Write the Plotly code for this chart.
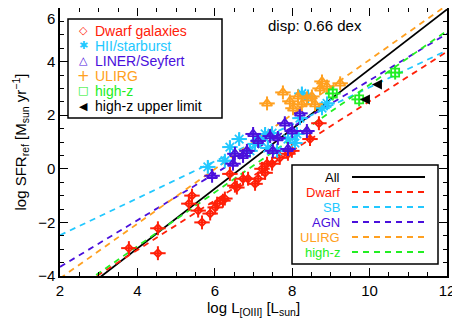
import numpy as np
import plotly.graph_objects as go

# ---- data ----
dwarf_x = [3.78, 4.53, 4.53, 5.33, 5.41, 5.57, 5.67, 5.88, 6.01, 6.06, 6.21, 6.26, 6.39, 6.52,
           6.57, 6.73, 6.86, 7.04, 7.12, 7.22, 7.30, 7.35, 7.48, 7.68, 7.89, 7.99, 8.46, 8.69]
dwarf_y = [-2.96, -2.22, -3.15, -1.30, -1.00, -1.56, -2.00, -1.67, -1.44, -1.30, -1.19, -1.11, -0.19, -0.63,
           -0.70, -0.37, -0.37, -0.56, -0.37, 0.00, -0.15, 0.19, 0.19, 0.41, 0.56, 0.67, 1.11, 1.70]

sb_x = [5.82, 6.26, 6.39, 6.63, 6.91, 7.04, 7.17, 7.30, 7.37, 7.48, 7.61, 7.89, 8.07, 8.12, 8.20, 8.25, 8.41, 8.77, 8.90]
sb_y = [0.07, 0.30, 0.81, 1.11, 0.67, 0.93, 1.07, 1.30, 0.78, 1.33, 0.67, 1.11, 0.96, 1.30, 1.89, 2.81, 2.70, 2.26, 2.44]

agn_x = [5.93, 6.47, 6.52, 6.73, 6.83, 6.99, 7.12, 7.43, 7.50, 7.63, 7.81, 7.89, 8.20, 8.38, 8.00]
agn_y = [-0.26, 0.19, 0.56, 0.48, 0.67, 1.30, 1.04, 1.22, 0.67, 1.15, 1.70, 0.74, 2.07, 1.41, 1.41]

ulirg_x = [7.35, 7.76, 7.94, 8.02, 8.15, 8.25, 8.38, 8.51, 8.59, 8.72, 8.77, 8.90, 9.24]
ulirg_y = [2.44, 2.85, 2.52, 2.26, 2.70, 2.41, 2.63, 2.70, 2.41, 3.00, 3.26, 3.07, 3.19]

highz_x = [9.05, 9.73, 10.66]
highz_y = [2.81, 2.59, 3.59]

limit_x = [10.06, 9.75]
limit_y = [3.15, 2.59]

# linear fits: log SFR = a + b * log L[OIII]
fit_names = ['All', 'Dwarf', 'SB', 'AGN', 'ULIRG', 'high-z']
fit_a = [-7.43, -6.73, -3.86, -5.40, -6.13, -6.91]
fit_b = [1.115, 0.925, 0.69, 0.87, 1.02, 1.005]

x_ticks = [2, 4, 6, 8, 10, 12]
y_ticks = [-4, -2, 0, 2, 4, 6]

legend_labels = ['Dwarf galaxies', 'HII/starburst', 'LINER/Seyfert', 'ULIRG', 'high-z', 'high-z upper limit']
legend_glyphs = ['◇', '✱', '△', '+', '□', '◀']

RED = '#ff2008'
CYAN = '#22c8ff'
PURPLE = '#4a10dc'
ORANGE = '#ffa020'
GREEN = '#22ee22'
fit_colors = ['black', RED, CYAN, PURPLE, ORANGE, GREEN]
legend_colors = [RED, CYAN, PURPLE, ORANGE, GREEN, 'black']

FONT = 'Liberation Sans'
W, H = 460, 331
OFF = 8  # page body margin shifts the figure in the window
ML, MR, MT, MB = 52, 21, 0, 63
PW, PH = W - ML - MR, H - MT - MB


# window pixel -> paper coordinate
def px(x):
    return (x - OFF - ML) / PW


def py(y):
    return 1 - (y - OFF - MT) / PH


fig = go.Figure()

# fit lines
xx = np.array([2.0, 12.0])
for name, a, b, c in zip(fit_names, fit_a, fit_b, fit_colors):
    fig.add_trace(go.Scatter(
        x=xx, y=a + b * xx, mode='lines', showlegend=False,
        line=dict(color=c, width=1.8, dash='solid' if name == 'All' else '6px,5px')))


def pts(x, y, color, symbol, size=8):
    fig.add_trace(go.Scatter(
        x=x, y=y, mode='markers', showlegend=False,
        marker=dict(symbol=symbol, size=size, color=color, line=dict(color=color, width=1.8)),
        error_x=dict(type='constant', value=0.2, color=color, thickness=2, width=0),
        error_y=dict(type='constant', value=0.26, color=color, thickness=2, width=0)))


pts(dwarf_x, dwarf_y, RED, 'diamond-open', size=6)
pts(sb_x, sb_y, CYAN, 'asterisk-open', size=10)
pts(agn_x, agn_y, PURPLE, 'triangle-up-open', size=9)
pts(ulirg_x, ulirg_y, ORANGE, 'triangle-up-open', size=9)
pts(highz_x, highz_y, GREEN, 'square-open', size=8)
fig.add_trace(go.Scatter(
    x=limit_x, y=limit_y, mode='markers', showlegend=False,
    marker=dict(symbol='arrow-left', size=10, color='black')))

# symbol legend, upper left
fig.add_shape(type='rect', xref='paper', yref='paper', x0=px(68), x1=px(222), y0=py(118), y1=py(19),
              fillcolor='white', line=dict(color='black', width=1.5), layer='above')
for i, (lab, g, c) in enumerate(zip(legend_labels, legend_glyphs, legend_colors)):
    ry = py(31 + i * 15)
    fig.add_annotation(text=g, xref='paper', yref='paper', x=px(83), y=ry,
                       xanchor='center', yanchor='middle', showarrow=False,
                       font=dict(family='DejaVu Sans', size=11 if g != '+' else 15, color=c))
    fig.add_annotation(text=lab, xref='paper', yref='paper', x=px(93), y=ry,
                       xanchor='left', yanchor='middle', showarrow=False,
                       font=dict(family=FONT, size=14, color=c))

# fit legend box, lower right
fig.add_shape(type='rect', xref='paper', yref='paper', x0=px(292), x1=px(438), y0=py(264), y1=py(165),
              fillcolor='white', line=dict(color='black', width=1.5), layer='above')
for i, (name, c) in enumerate(zip(fit_names, fit_colors)):
    ry = py(177 + i * 15)
    fig.add_shape(type='line', xref='paper', yref='paper', x0=px(352), x1=px(425), y0=ry, y1=ry,
                  line=dict(color=c, width=1.8, dash='solid' if name == 'All' else '6px,5px'),
                  layer='above')
    fig.add_annotation(text=name, xref='paper', yref='paper', x=px(342), y=ry,
                       xanchor='right', yanchor='middle', showarrow=False,
                       font=dict(family=FONT, size=13, color=c))

fig.add_annotation(text='disp: 0.66 dex', xref='paper', yref='paper', x=px(266), y=py(25),
                   xanchor='left', yanchor='middle', showarrow=False,
                   font=dict(family=FONT, size=15, color='black'))

axis_common = dict(
    showgrid=False, zeroline=False, showline=True, linecolor='black', linewidth=1.5,
    mirror='ticks', ticks='inside', ticklen=8, tickwidth=1, tickcolor='black',
    tickfont=dict(family=FONT, size=15, color='black'), automargin=False,
    ticklabeloverflow='allow',
    minor=dict(ticks='inside', ticklen=4, dtick=0.5, tickcolor='black', tickwidth=1),
)

fig.update_xaxes(range=[2, 12.0001], tickvals=x_ticks,
                 title=dict(text='log L<sub>[OIII]</sub> [L<sub>sun</sub>]', standoff=0,
                            font=dict(family=FONT, size=15, color='black')),
                 **axis_common)
# the top label sits on the page edge, so it is drawn just below the frame top
fig.update_yaxes(range=[-4.0001, 6.0001], tickvals=y_ticks,
                 ticktext=[str(v).replace('-', '−') for v in y_ticks[:-1]] + [''],
                 title=dict(text='log SFR<sub>ref</sub> [M<sub>sun</sub> yr<sup>−1</sup>]', standoff=8,
                            font=dict(family=FONT, size=15, color='black')),
                 **axis_common)
fig.add_annotation(text=str(y_ticks[-1]), xref='paper', yref='paper', x=0, y=1,
                   xanchor='right', yanchor='top', xshift=-3, showarrow=False,
                   font=dict(family=FONT, size=15, color='black'))

fig.update_layout(
    width=W, height=H,
    margin=dict(l=ML, r=MR, t=MT, b=MB),
    plot_bgcolor='white', paper_bgcolor='white',
    font=dict(family=FONT, size=12, color='black'),
    showlegend=False,
)

fig.write_html("out.html")
